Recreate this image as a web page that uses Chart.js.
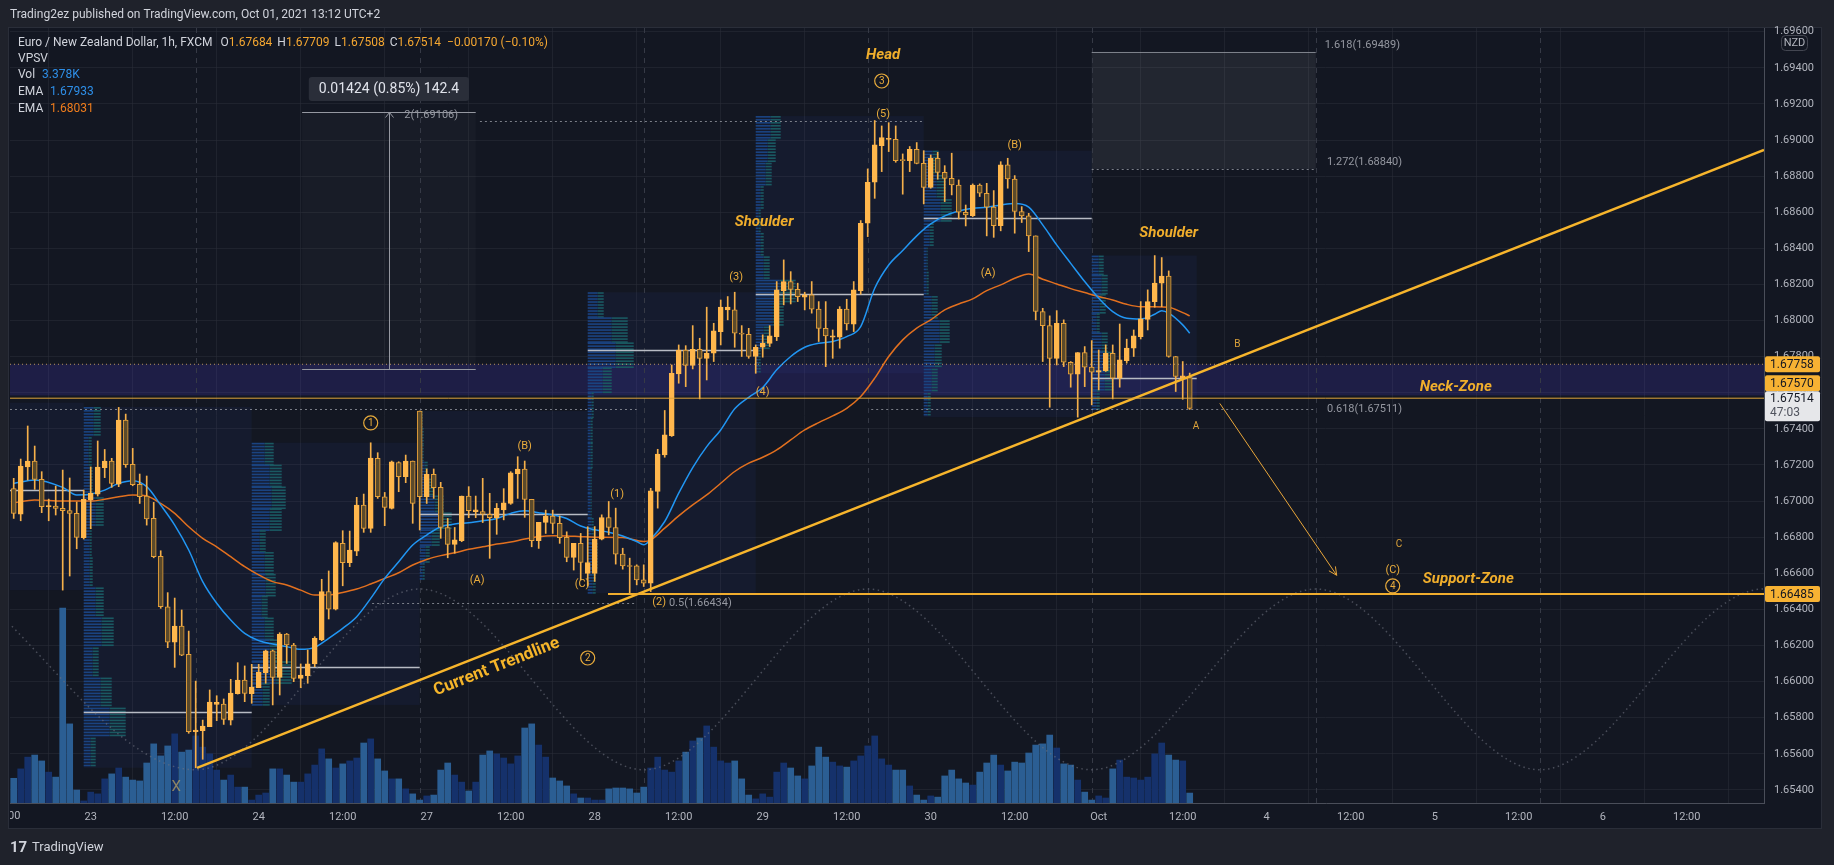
<!DOCTYPE html>
<html><head><meta charset="utf-8">
<script src="https://cdn.jsdelivr.net/npm/chart.js@4.4.0/dist/chart.umd.min.js"></script>
<style>html,body{margin:0;padding:0;background:#1f222b;overflow:hidden}canvas{position:absolute;left:0;top:0}</style>
</head><body><canvas id="c" width="1834" height="865"></canvas>
<script>
// ---------- DATA ----------
const FIRST_BAR = 1; // bar index of first candle (hours since Sep 22 12:00, trading hours)
const open = [1.67070,1.66928,1.67190,1.67222,1.67120,1.66969,1.66973,1.66960,1.66947,1.66932,
1.66797,1.67006,1.67039,1.67185,1.67222,1.67094,1.67449,1.67203,1.67093,1.67028,
1.66904,1.66694,1.66415,1.66218,1.66308,1.66151,1.65723,1.65728,1.65751,1.65874,
1.65876,1.65787,1.65933,1.66009,1.65933,1.65967,1.66050,1.66170,1.66024,1.66264,
1.66203,1.66018,1.66033,1.66098,1.66231,1.66499,1.66402,1.66766,1.66659,1.66723,
1.66978,1.66849,1.67237,1.67024,1.66960,1.67214,1.67135,1.67222,1.67499,1.67024,
1.67148,1.67076,1.66854,1.66760,1.66781,1.67028,1.66942,1.66942,1.66927,1.66908,
1.66951,1.66987,1.67150,1.67178,1.67010,1.66781,1.66882,1.66917,1.66877,1.66799,
1.66688,1.66766,1.66600,1.66600,1.66789,1.66909,1.66854,1.66706,1.66641,1.66641,
1.66564,1.66545,1.67053,1.67256,1.67363,1.67705,1.67837,1.67751,1.67841,1.67791,
1.67819,1.67939,1.68059,1.68059,1.67930,1.67924,1.67801,1.67852,1.67874,1.67911,
1.68166,1.68216,1.68173,1.68129,1.68142,1.68063,1.67957,1.67908,1.67908,1.68063,
1.67980,1.68166,1.68539,1.68766,1.68969,1.69004,1.69004,1.68888,1.68886,1.68949,
1.68871,1.68738,1.68899,1.68821,1.68788,1.68751,1.68600,1.68581,1.68751,1.68705,
1.68628,1.68526,1.68862,1.68784,1.68604,1.68580,1.68469,1.68050,1.67972,1.67791,
1.67985,1.67769,1.67703,1.67823,1.67742,1.67714,1.67723,1.67819,1.67681,1.67778,
1.67847,1.67911,1.68007,1.68105,1.68207,1.68247,1.67801,1.67681,1.67684];
const high = [1.67126,1.67233,1.67416,1.67305,1.67163,1.67011,1.67083,1.67172,1.67128,1.66995,
1.67061,1.67189,1.67333,1.67286,1.67237,1.67519,1.67482,1.67292,1.67150,1.67139,
1.66993,1.66725,1.66493,1.66463,1.66397,1.66280,1.66003,1.65787,1.65954,1.65922,
1.65904,1.66013,1.66105,1.66087,1.66096,1.66096,1.66175,1.66175,1.66271,1.66267,
1.66212,1.66098,1.66175,1.66249,1.66567,1.66613,1.66775,1.66836,1.66834,1.67021,
1.67039,1.67323,1.67268,1.67048,1.67222,1.67218,1.67255,1.67222,1.67499,1.67178,
1.67178,1.67104,1.66904,1.66854,1.67028,1.67080,1.67028,1.67126,1.67043,1.66987,
1.67069,1.67163,1.67246,1.67222,1.67010,1.66882,1.66950,1.66950,1.66917,1.66830,
1.66766,1.66821,1.66858,1.66859,1.66924,1.66998,1.66961,1.66739,1.66684,1.66647,
1.66647,1.67071,1.67287,1.67502,1.67754,1.67865,1.67861,1.67972,1.67902,1.68074,
1.67985,1.68114,1.68133,1.68157,1.67972,1.67957,1.67865,1.67921,1.67972,1.68216,
1.68336,1.68271,1.68207,1.68157,1.68216,1.68105,1.68105,1.67948,1.68077,1.68118,
1.68216,1.68554,1.68840,1.69108,1.69078,1.69096,1.69078,1.68923,1.68964,1.68986,
1.68941,1.68917,1.68932,1.68858,1.68927,1.68779,1.68640,1.68757,1.68757,1.68760,
1.68720,1.68880,1.68899,1.68803,1.68631,1.68594,1.68469,1.68068,1.68026,1.68055,
1.68004,1.67773,1.67823,1.67856,1.67889,1.67837,1.67865,1.67865,1.67981,1.67897,
1.67948,1.68105,1.68170,1.68360,1.68349,1.68275,1.67801,1.67773,1.67709];
const low = [1.66904,1.66891,1.67117,1.67065,1.66936,1.66891,1.66923,1.66507,1.66585,1.66736,
1.66790,1.66847,1.67028,1.67130,1.67076,1.67080,1.67187,1.67085,1.66987,1.66867,
1.66686,1.66406,1.66188,1.66079,1.66144,1.65714,1.65523,1.65570,1.65751,1.65784,
1.65763,1.65760,1.65931,1.65889,1.65880,1.65967,1.65991,1.65871,1.65926,1.66101,
1.66000,1.65967,1.65991,1.66083,1.66227,1.66347,1.66397,1.66531,1.66637,1.66698,
1.66827,1.66827,1.67015,1.66864,1.66956,1.67052,1.67102,1.66877,1.66840,1.66987,
1.67015,1.66794,1.66686,1.66711,1.66775,1.66908,1.66908,1.66881,1.66683,1.66816,
1.66896,1.66982,1.67015,1.66910,1.66747,1.66738,1.66821,1.66821,1.66766,1.66664,
1.66618,1.66563,1.66530,1.66555,1.66785,1.66813,1.66651,1.66623,1.66490,1.66536,
1.66527,1.66499,1.66961,1.67243,1.67358,1.67653,1.67634,1.67732,1.67566,1.67671,
1.67773,1.67865,1.68004,1.67852,1.67801,1.67791,1.67708,1.67797,1.67856,1.67889,
1.68087,1.68092,1.68105,1.68059,1.68041,1.67884,1.67745,1.67791,1.67847,1.67948,
1.67939,1.68146,1.68465,1.68677,1.68825,1.68936,1.68877,1.68700,1.68825,1.68868,
1.68646,1.68733,1.68783,1.68659,1.68696,1.68563,1.68524,1.68576,1.68687,1.68469,
1.68461,1.68497,1.68733,1.68484,1.68543,1.68382,1.68004,1.67773,1.67520,1.67754,
1.67745,1.67631,1.67465,1.67634,1.67533,1.67616,1.67718,1.67566,1.67631,1.67764,
1.67801,1.67898,1.67948,1.68074,1.68077,1.67797,1.67607,1.67564,1.67508];
const close = [1.66932,1.67194,1.67222,1.67120,1.66969,1.66971,1.66960,1.66947,1.66932,1.66799,
1.67010,1.67043,1.67189,1.67222,1.67098,1.67449,1.67202,1.67091,1.67024,1.66902,
1.66692,1.66415,1.66218,1.66308,1.66147,1.65723,1.65732,1.65754,1.65887,1.65885,
1.65791,1.65937,1.66009,1.65935,1.65970,1.66051,1.66170,1.66024,1.66264,1.66203,
1.66018,1.66037,1.66098,1.66240,1.66499,1.66402,1.66770,1.66659,1.66729,1.66978,
1.66849,1.67238,1.67024,1.66965,1.67218,1.67135,1.67222,1.66987,1.67024,1.67148,
1.67074,1.66854,1.66760,1.66785,1.67028,1.66947,1.66951,1.66927,1.66908,1.66960,
1.66991,1.67157,1.67178,1.67010,1.66781,1.66882,1.66917,1.66877,1.66797,1.66688,
1.66766,1.66661,1.66660,1.66789,1.66909,1.66854,1.66706,1.66641,1.66638,1.66564,
1.66545,1.67057,1.67260,1.67367,1.67708,1.67837,1.67751,1.67841,1.67791,1.67819,
1.67943,1.68074,1.68074,1.67930,1.67924,1.67801,1.67852,1.67874,1.67915,1.68170,
1.68216,1.68173,1.68133,1.68142,1.68063,1.67957,1.67915,1.67915,1.68063,1.67981,
1.68170,1.68539,1.68766,1.68973,1.69013,1.69010,1.68886,1.68886,1.68949,1.68871,
1.68738,1.68899,1.68821,1.68788,1.68751,1.68600,1.68585,1.68751,1.68705,1.68628,
1.68526,1.68862,1.68784,1.68604,1.68580,1.68469,1.68050,1.67972,1.67791,1.67985,
1.67769,1.67703,1.67823,1.67742,1.67714,1.67723,1.67819,1.67681,1.67782,1.67847,
1.67915,1.68009,1.68105,1.68207,1.68247,1.67801,1.67690,1.67694,1.67514];
const volume = [8.4,11.6,15.6,16.3,14.3,10.5,8.8,66.3,26.9,4.4,
0.7,3.7,3.1,8.2,9.9,11.9,8.8,7.8,7.5,13.6,
20.1,16.0,19.4,23.5,17.3,18.0,22.8,19.0,16.7,11.2,
7.8,9.5,5.4,5.4,1.0,2.7,3.4,11.6,11.6,9.5,
7.1,7.1,9.9,12.9,18.4,15.0,11.9,13.3,14.3,15.3,
20.4,21.8,15.0,10.9,8.2,8.2,4.8,3.1,1.0,2.4,
2.7,11.2,13.6,9.5,7.1,4.1,7.1,16.3,17.7,16.7,
15.3,13.3,16.0,25.5,26.9,19.7,15.6,8.5,7.5,5.8,
3.1,1.7,1.7,1.0,1.0,4.8,5.1,5.1,4.8,3.4,
5.4,11.9,15.6,11.2,10.5,14.3,17.3,21.1,22.1,26.2,
19.0,14.3,13.6,14.3,8.2,2.7,1.4,3.1,2.0,10.5,
13.6,11.9,9.2,8.2,12.6,19.0,15.6,13.9,12.6,12.2,
14.3,16.0,19.4,22.8,15.0,12.9,11.2,11.2,5.8,2.7,
1.0,2.4,2.0,9.2,11.2,8.2,6.8,6.1,10.5,13.6,
16.3,12.9,10.9,13.9,13.6,17.0,19.7,20.1,23.1,18.7,
13.3,12.9,7.8,3.7,1.0,2.4,1.7,11.6,14.6,8.8,
8.5,7.8,8.8,16.7,20.4,16.3,14.6,14.3,3.378];

const emaFastIdx = [1,4,8,10,12,14,16,18,20,22,24,26,28,30,32,34,36,38,40,42,44,46,48,50,52,54,56,58,60,62,64,66,68,70,72,74,76,78,80,82,84,86,88,90,91,92,94,96,98,100,102,104,106,108,110,112,114,116,118,120,122,124,126,128,130,132,134,136,138,140,142,144,146,148,150,152,154,156,158,160,162,164,165,166,168,169];
const emaFastVal = [1.67098,1.67117,1.67076,1.67034,1.67039,1.67061,1.67098,1.67113,1.67080,1.66978,1.66867,1.66729,1.66554,1.66434,1.66341,1.66267,1.66227,1.66208,1.66194,1.66179,1.66190,1.66240,1.66295,1.66360,1.66461,1.66572,1.66664,1.66757,1.66812,1.66858,1.66873,1.66880,1.66891,1.66904,1.66932,1.66947,1.66936,1.66923,1.66904,1.66862,1.66841,1.66828,1.66807,1.66776,1.66758,1.66789,1.66887,1.67044,1.67186,1.67302,1.67394,1.67511,1.67575,1.67629,1.67727,1.67801,1.67852,1.67874,1.67884,1.67911,1.67967,1.68179,1.68308,1.68388,1.68469,1.68535,1.68580,1.68607,1.68622,1.68628,1.68640,1.68648,1.68628,1.68530,1.68419,1.68317,1.68216,1.68124,1.68050,1.68013,1.68009,1.68035,1.68055,1.68041,1.67976,1.67930];
const emaSlowIdx = [1,4,8,12,14,16,18,20,22,24,26,28,30,32,34,36,38,40,42,44,46,48,50,52,54,56,58,60,62,64,66,68,70,72,74,76,78,80,82,84,88,91,92,94,96,98,100,102,104,106,108,110,112,114,116,118,120,122,124,126,128,130,132,134,136,138,140,142,144,146,148,150,152,154,156,158,160,162,164,166,168,169];
const emaSlowVal = [1.66991,1.67006,1.67000,1.67000,1.67010,1.67024,1.67034,1.67028,1.66987,1.66932,1.66858,1.66794,1.66747,1.66692,1.66637,1.66591,1.66554,1.66535,1.66507,1.66480,1.66480,1.66494,1.66513,1.66541,1.66572,1.66603,1.66646,1.66677,1.66698,1.66714,1.66733,1.66747,1.66762,1.66773,1.66790,1.66803,1.66808,1.66807,1.66803,1.66800,1.66798,1.66776,1.66785,1.66850,1.66918,1.66979,1.67034,1.67099,1.67164,1.67210,1.67243,1.67284,1.67339,1.67394,1.67435,1.67472,1.67514,1.67579,1.67681,1.67801,1.67893,1.67958,1.68004,1.68059,1.68092,1.68120,1.68166,1.68198,1.68234,1.68258,1.68229,1.68203,1.68177,1.68155,1.68133,1.68114,1.68090,1.68077,1.68077,1.68074,1.68044,1.68026];

const sineIdx = [-5,27,59,91,123,155,187,219,251,283];
const sineVal = [1.66513,1.65512,1.66513,1.65512,1.66513,1.65512,1.66513,1.65512,1.66513,1.65512];

const trendIdx = [27.19,251.04];
const trendVal = [1.65522,1.68945];
const supportLevel = 1.66485, supportFromIdx = 85.9;
const neckLevel = 1.67570, neckTop = 1.67758, neckBottom = 1.67585;
const lastPrice = 1.67514, lastPriceTimer = '47:03';

const priceTicks = [1.654,1.656,1.658,1.660,1.662,1.664,1.666,1.668,1.670,1.672,1.674,1.676,1.678,1.680,1.682,1.684,1.686,1.688,1.690,1.692,1.694,1.696];
const timeTickIdx = [12,24,36,48,60,72,84,96,108,120,132,144,156,168,180,192,204,216,228,240];
const timeTickLabels = ['23','12:00','24','12:00','27','12:00','28','12:00','29','12:00','30','12:00','Oct','12:00','4','12:00','5','12:00','6','12:00'];
const edgeTickIdx = 0, edgeTickLabel = '12:00'; // partly hidden label at the left edge

// volume profile (VPSV) per session
const sessionStart = [-13,11,35,59,83,107,131,155];
const sessionEnd   = [11,35,59,83,107,131,155,170];
const sessionHigh  = [1.67545,1.67521,1.67323,1.67499,1.68157,1.69133,1.68941,1.68360];
const sessionLow   = [1.66507,1.65523,1.65871,1.66563,1.66490,1.67708,1.67465,1.67508];
const sessionPoc   = [1.67062,1.65832,1.66081,1.66929,1.67837,1.68147,1.68568,1.67682];
const vpTotal = [[],
 [17,8,9,20,8,9,20,30,15,28,42,12],
 [22,30,34,30,14,22,24,16,22,30,40,18],
 [3,4,4,8,14,24,32,20,10,5],
 [16,40,46,24,6,5,5,4,4,6,10,8],
 [25,20,16,8,5,8,14,40,28,14,5],
 [15,22,28,10,4,5,14,26,18,14,7],
 [12,16,14,8,16,20,22,8]];
const vpUp = [[],
 [10,5,6,12,6,6,12,18,9,17,26,7],
 [13,18,20,18,8,13,14,10,13,18,24,11],
 [2,3,3,5,9,15,20,12,6,3],
 [10,24,28,15,4,3,3,3,3,4,6,5],
 [15,12,10,5,3,5,8,24,17,8,3],
 [9,13,17,6,3,3,8,16,11,8,4],
 [7,10,8,5,10,12,13,5]];

// fib / level drawings
const fibLevel = [1.69106,1.66434,1.67511,1.67511,1.69489,1.68840];
const fibFrom  = [67.6,52.2,0.47,123.5,155,155];
const fibTo    = [131.0,90.0,90.0,187.0,187,187];
const fibSolid = [false,false,false,false,true,false];
const fibLabel = ['2(1.69106)','0.5(1.66434)','','0.618(1.67511)','1.618(1.69489)','1.272(1.68840)'];
const fibLabelIdx = [56.8,94.6,0,188.6,188.3,188.6];
const fibLabelPrice = [1.69136,1.66434,0,1.67511,1.69525,1.68876];
const fibBoxFrom = 155, fibBoxTo = 187;

// price range measure
const measureFrom = 42.2, measureTo = 67.0, measureAt = 54.6;
const measureTop = 1.69156, measureBottom = 1.67732;
const measureText = '0.01424 (0.85%) 142.4', measureLabelPrice = 1.69283;

// annotations
const annText  = ['Head','3','(5)','(B)','Shoulder','Shoulder','(3)','(4)','(1)','(2)','(A)','(A)','(B)','(C)','1','2','X','A','B','C','(C)','4','Neck-Zone','Support-Zone'];
const annKind  = ['title','circle','wave','wave','title','title','wave','wave','wave','wave','wave','wave','wave','wave','circle','circle','x','small','small','small','wave','circle','title','title'];
const annIdx   = [125.2,125.0,125.2,144.0,108.2,166.0,104.2,108.0,87.2,93.2,140.2,67.2,74.0,82.2,52.0,83.0,24.2,169.9,175.8,198.9,198.0,198.0,207.0,208.8];
const annPrice = [1.69471,1.69327,1.69144,1.68973,1.68546,1.68485,1.68241,1.67604,1.67039,1.66441,1.68263,1.66563,1.67305,1.66541,1.67433,1.66131,1.65416,1.67411,1.67870,1.66757,1.66618,1.66530,1.67632,1.66569];
const trendText = 'Current Trendline', trendTextIdx = 70.0, trendTextPrice = 1.66081;
const arrowIdx = [173.3,190.0], arrowPrice = [1.67541,1.66589];

// ---------- CHART ----------
const X0 = 0.471, X1 = 251.04, Y0 = 1.653278, Y1 = 1.696205;
const ORANGE = '#f0ad2e';
const barIdx = open.map((_, k) => k + FIRST_BAR);
const isUp = open.map((o, k) => close[k] >= o);
Chart.defaults.font.family = 'Roboto';

function line(c, x1, y1, x2, y2){ c.beginPath(); c.moveTo(x1,y1); c.lineTo(x2,y2); c.stroke(); }
function rrect(c, x, y, w, h, r){ c.beginPath(); c.moveTo(x+r,y); c.lineTo(x+w-r,y); c.quadraticCurveTo(x+w,y,x+w,y+r); c.lineTo(x+w,y+h-r); c.quadraticCurveTo(x+w,y+h,x+w-r,y+h); c.lineTo(x+r,y+h); c.quadraticCurveTo(x,y+h,x,y+h-r); c.lineTo(x,y+r); c.quadraticCurveTo(x,y,x+r,y); c.closePath(); }

const decor = {
  id: 'decor',
  beforeDraw(chart){
    const c = chart.ctx;
    c.save();
    c.fillStyle = '#1f222b'; c.fillRect(0, 0, chart.width, chart.height);
    c.fillStyle = '#131722'; c.fillRect(8, 27, 1814, 802);
    c.strokeStyle = '#2a2e39'; c.lineWidth = 1; c.strokeRect(8.5, 27.5, 1813, 801);
    c.restore();
  },
  beforeDatasetsDraw(chart){
    const {ctx: c, chartArea: a, scales: {x, y}} = chart;
    const X = v => x.getPixelForValue(v), Y = v => y.getPixelForValue(v);
    c.save();
    c.beginPath(); c.rect(a.left, a.top, a.right - a.left, a.bottom - a.top); c.clip();
    for (let s = 0; s < sessionStart.length; s++){
      c.fillStyle = 'rgba(60,110,230,0.06)';
      c.fillRect(X(sessionStart[s]), Y(sessionHigh[s]), X(sessionEnd[s]) - X(sessionStart[s]), Y(sessionLow[s]) - Y(sessionHigh[s]));
    }
    c.fillStyle = 'rgba(255,255,255,0.025)';
    c.fillRect(X(measureFrom), Y(measureTop), X(measureTo) - X(measureFrom), Y(measureBottom) - Y(measureTop));
    c.fillStyle = 'rgba(255,255,255,0.065)';
    c.fillRect(X(fibBoxFrom), Y(fibLevel[4]), X(fibBoxTo) - X(fibBoxFrom), Y(fibLevel[5]) - Y(fibLevel[4]));
    c.fillStyle = 'rgba(72,61,200,0.22)';
    c.fillRect(a.left, Y(neckTop), a.right - a.left, Y(neckBottom) - Y(neckTop));
    c.strokeStyle = '#363a46'; c.lineWidth = 1; c.setLineDash([5, 5]);
    sineIdx.forEach(v => { if (v > X0 && v < X1 - 1) line(c, Math.round(X(v)) + 0.5, a.top, Math.round(X(v)) + 0.5, a.bottom); });
    c.setLineDash([]);
    for (let s = 0; s < sessionStart.length; s++){
      const rows = vpTotal[s]; if (!rows.length) continue;
      const top0 = Y(sessionHigh[s]), bot0 = Y(sessionLow[s]);
      const rh = (bot0 - top0) / rows.length;
      const x0 = X(sessionStart[s]);
      for (let r = 0; r < rows.length; r++){
        const upW = X(sessionStart[s] + vpUp[s][r] / 7) - x0;
        const totW = X(sessionStart[s] + rows[r] / 7) - x0;
        for (let yy = top0 + r * rh; yy < top0 + (r + 1) * rh - 0.8; yy += 3){
          c.fillStyle = '#1a4380'; c.fillRect(x0, yy, upW, 1.6);
          c.fillStyle = '#1a5962'; c.fillRect(x0 + upW, yy, totW - upW, 1.6);
        }
      }
    }
    c.strokeStyle = '#b8bbc4'; c.lineWidth = 1.5;
    for (let s = 0; s < sessionStart.length; s++){
      const py = Math.round(Y(sessionPoc[s])) + 0.5;
      line(c, X(sessionStart[s]), py, X(sessionEnd[s]), py);
    }
    c.strokeStyle = 'rgba(149,152,161,0.8)'; c.lineWidth = 1;
    for (let k = 0; k < fibLevel.length; k++){
      c.setLineDash(fibSolid[k] ? [] : [2, 3]);
      const py = Math.round(Y(fibLevel[k])) + 0.5;
      line(c, X(fibFrom[k]), py, X(fibTo[k]), py);
    }
    c.setLineDash([]);
    c.strokeStyle = '#9598a1'; c.lineWidth = 1;
    const mt = Math.round(Y(measureTop)) + 0.5, mb = Math.round(Y(measureBottom)) + 0.5, mx = Math.round(X(measureAt)) + 0.5;
    line(c, X(measureFrom), mt, X(measureTo), mt);
    line(c, X(measureFrom), mb, X(measureTo), mb);
    line(c, mx, mb, mx, mt);
    line(c, mx - 4, mt + 5, mx, mt); line(c, mx + 4, mt + 5, mx, mt);
    c.restore();
  },
  afterDatasetsDraw(chart){
    const {ctx: c, chartArea: a, scales: {x, y}} = chart;
    const X = v => x.getPixelForValue(v), Y = v => y.getPixelForValue(v);
    c.save();
    c.beginPath(); c.rect(a.left, a.top, a.right - a.left, a.bottom - a.top); c.clip();
    c.textAlign = 'center'; c.textBaseline = 'middle';
    for (let k = 0; k < annText.length; k++){
      const px = X(annIdx[k]), py = Y(annPrice[k]);
      const kind = annKind[k];
      if (kind === 'title'){ c.font = 'italic bold 15px Roboto'; c.fillStyle = '#f0ae2c'; c.fillText(annText[k], px, py); }
      else if (kind === 'wave'){ c.font = '11px Roboto'; c.fillStyle = '#e9ac3c'; c.fillText(annText[k], px, py); }
      else if (kind === 'circle'){
        c.strokeStyle = '#e9ac3c'; c.lineWidth = 1.2; c.beginPath(); c.arc(px, py, 7, 0, Math.PI * 2); c.stroke();
        c.font = '10px Roboto'; c.fillStyle = '#e9ac3c'; c.fillText(annText[k], px, py + 0.5);
      }
      else if (kind === 'small'){ c.font = '10px Roboto'; c.fillStyle = '#dba23a'; c.fillText(annText[k], px, py); }
      else { c.font = '15px Roboto'; c.fillStyle = 'rgba(205,175,95,0.65)'; c.fillText(annText[k], px, py); }
    }
    const ang = Math.atan2(Y(trendVal[1]) - Y(trendVal[0]), X(trendIdx[1]) - X(trendIdx[0]));
    c.save(); c.translate(X(trendTextIdx), Y(trendTextPrice)); c.rotate(ang);
    c.font = 'bold 17px Roboto'; c.fillStyle = '#f5b52a'; c.fillText(trendText, 0, 0); c.restore();
    const ax1 = X(arrowIdx[0]), ay1 = Y(arrowPrice[0]), ax2 = X(arrowIdx[1]), ay2 = Y(arrowPrice[1]);
    c.strokeStyle = '#e8a63a'; c.lineWidth = 1;
    line(c, ax1, ay1, ax2, ay2);
    const aa = Math.atan2(ay2 - ay1, ax2 - ax1);
    line(c, ax2, ay2, ax2 - 9 * Math.cos(aa - 0.45), ay2 - 9 * Math.sin(aa - 0.45));
    line(c, ax2, ay2, ax2 - 9 * Math.cos(aa + 0.45), ay2 - 9 * Math.sin(aa + 0.45));
    c.font = '11px Roboto'; c.fillStyle = '#9598a1'; c.textAlign = 'left';
    for (let k = 0; k < fibLabel.length; k++){
      if (!fibLabel[k]) continue;
      c.fillText(fibLabel[k], X(fibLabelIdx[k]), Y(fibLabelPrice[k]));
    }
    c.font = '14px Roboto';
    const tw = c.measureText(measureText).width;
    const lx = X(measureAt), ly = Y(measureLabelPrice);
    c.fillStyle = '#2a2e39'; rrect(c, lx - tw / 2 - 10, ly - 12, tw + 20, 24, 3); c.fill();
    c.fillStyle = '#e0e3eb'; c.textAlign = 'center'; c.fillText(measureText, lx, ly + 0.5);
    c.restore();
  },
  afterDraw(chart){
    const {ctx: c, chartArea: a, scales: {x, y}} = chart;
    const Y = v => y.getPixelForValue(v);
    c.save();
    // left-edge time label, clipped at the pane border
    c.save(); c.beginPath(); c.rect(a.left, a.bottom + 1, 60, 24); c.clip();
    c.font = '11px Roboto'; c.fillStyle = '#b2b5be'; c.textAlign = 'center'; c.textBaseline = 'top';
    c.fillText(edgeTickLabel, x.getPixelForValue(edgeTickIdx), a.bottom + 8);
    c.restore();
    c.textBaseline = 'middle'; c.textAlign = 'left';
    c.font = '12px Roboto'; c.fillStyle = '#d1d4dc';
    c.fillText('Trading2ez published on TradingView.com, Oct 01, 2021 13:12 UTC+2', 10, 15);
    const W = '#d1d4dc', O = '#f5a731', B = '#2e8fe8', R = '#f07d1c';
    const segs = [['Euro / New Zealand Dollar, 1h, FXCM', W, 8], ['O', W, 0], ['1.67684', O, 5], ['H', W, 0], ['1.67709', O, 5], ['L', W, 0], ['1.67508', O, 5], ['C', W, 0], ['1.67514', O, 6], ['\u22120.00170 (\u22120.10%)', O, 0]];
    let xx = 18;
    segs.forEach(sg => { c.fillStyle = sg[1]; c.fillText(sg[0], xx, 43); xx += c.measureText(sg[0]).width + sg[2]; });
    c.fillStyle = W; c.fillText('VPSV', 18, 59);
    c.fillText('Vol', 18, 75); c.fillStyle = B; c.fillText('3.378K', 42, 75);
    c.fillStyle = W; c.fillText('EMA', 18, 92); c.fillStyle = B; c.fillText('1.67933', 50, 92);
    c.fillStyle = W; c.fillText('EMA', 18, 109); c.fillStyle = R; c.fillText('1.68031', 50, 109);
    const bx = 1765, bw = 55;
    const lastTop = Y(lastPrice) - 17;
    const labs = [[neckTop, 0], [neckLevel, 0], [supportLevel, 0]];
    c.font = '12px Roboto'; c.textAlign = 'left';
    labs.forEach(l => {
      let cy = Y(l[0]);
      if (cy + 8 > lastTop && cy - 8 < lastTop + 30) cy = lastTop - 8;
      c.fillStyle = '#f7b233'; rrect(c, bx, cy - 8, bw, 16, 2); c.fill();
      c.fillStyle = '#131722'; c.fillText(l[0].toFixed(5), bx + 5, cy + 0.5);
    });
    c.fillStyle = '#e6e7ea'; rrect(c, bx, lastTop, bw, 30, 2); c.fill();
    c.fillStyle = '#131722'; c.fillText(lastPrice.toFixed(5), bx + 5, lastTop + 8);
    c.fillStyle = '#50535e'; c.fillText(lastPriceTimer, bx + 5, lastTop + 22);
    c.fillStyle = '#131722'; rrect(c, 1781, 35, 27, 16, 4); c.fill();
    c.strokeStyle = '#434651'; c.lineWidth = 1; rrect(c, 1781.5, 35.5, 26, 15, 4); c.stroke();
    c.fillStyle = '#b2b5be'; c.font = '11px Roboto'; c.textAlign = 'center'; c.fillText('NZD', 1794.5, 43.5);
    c.textAlign = 'left'; c.fillStyle = '#d1d4dc';
    c.font = 'bold 15px Roboto'; c.fillText('17', 10, 848);
    c.font = '13px Roboto'; c.fillText('TradingView', 32, 848);
    c.restore();
  }
};

const datasets = [
  {type: 'bar', label: 'vol', yAxisID: 'yv', data: barIdx.map((xv, k) => ({x: xv, y: volume[k]})),
   backgroundColor: isUp.map(u => u ? '#15316b' : '#2b5e93'), barThickness: 6, grouped: false, order: 10},
  {type: 'line', label: 'sine', data: sineIdx.map((xv, k) => ({x: xv, y: sineVal[k]})),
   borderColor: 'rgba(110,114,126,0.6)', borderWidth: 1.5, borderDash: [1.5, 3.5], pointRadius: 0, cubicInterpolationMode: 'monotone', order: 9},
  {type: 'line', label: 'emaFast', data: emaFastIdx.map((xv, k) => ({x: xv, y: emaFastVal[k]})),
   borderColor: '#2196f3', borderWidth: 1.5, pointRadius: 0, cubicInterpolationMode: 'monotone', order: 3},
  {type: 'line', label: 'emaSlow', data: emaSlowIdx.map((xv, k) => ({x: xv, y: emaSlowVal[k]})),
   borderColor: '#e2701f', borderWidth: 1.5, pointRadius: 0, cubicInterpolationMode: 'monotone', order: 3},
  {type: 'bar', label: 'wick', data: barIdx.map((xv, k) => ({x: xv, y: [low[k], high[k]]})),
   backgroundColor: '#f5b04a', barThickness: 1, grouped: false, order: 2},
  {type: 'bar', label: 'body', data: barIdx.map((xv, k) => ({x: xv, y: [open[k], close[k]]})),
   backgroundColor: isUp.map(u => u ? '#ffb74d' : '#5b4a2b'), borderColor: isUp.map(u => u ? '#ffb74d' : '#e8a23a'),
   borderWidth: 1, borderSkipped: false, barThickness: 5, minBarLength: 1, grouped: false, order: 1},
  {type: 'line', label: 'neckTop', data: [{x: X0, y: neckTop}, {x: X1, y: neckTop}],
   borderColor: 'rgba(240,190,110,0.75)', borderWidth: 1, borderDash: [1, 3], pointRadius: 0, order: 0},
  {type: 'line', label: 'neck', data: [{x: X0, y: neckLevel}, {x: X1, y: neckLevel}],
   borderColor: '#e0a43a', borderWidth: 1, pointRadius: 0, order: 0},
  {type: 'line', label: 'support', data: [{x: supportFromIdx, y: supportLevel}, {x: X1, y: supportLevel}],
   borderColor: ORANGE, borderWidth: 2, pointRadius: 0, order: 0},
  {type: 'line', label: 'trend', data: trendIdx.map((xv, k) => ({x: xv, y: trendVal[k]})),
   borderColor: '#f7b52c', borderWidth: 2.5, pointRadius: 0, order: 0}
];

new Chart(document.getElementById('c'), {
  type: 'bar',
  data: {datasets},
  options: {
    responsive: false, animation: false, events: [],
    layout: {padding: {left: 10, top: 28, right: 12, bottom: 37}},
    plugins: {legend: {display: false}, tooltip: {enabled: false}},
    scales: {
      x: {type: 'linear', min: X0, max: X1, offset: false, position: 'bottom',
        grid: {color: 'rgba(42,46,57,0.55)', drawTicks: false},
        border: {display: true, color: '#4a4e59'},
        ticks: {color: '#b2b5be', font: {size: 11}, padding: 8, maxRotation: 0, autoSkip: false,
          callback: (v, i) => timeTickLabels[i]},
        afterBuildTicks: s => { s.ticks = timeTickIdx.map(v => ({value: v})); },
        afterFit: s => { s.height = 25; }},
      y: {type: 'linear', position: 'right', min: Y0, max: Y1,
        grid: {color: 'rgba(42,46,57,0.55)', drawTicks: false},
        border: {display: true, color: '#4a4e59'},
        ticks: {color: '#b2b5be', font: {size: 11}, padding: 10, callback: v => Number(v).toFixed(5)},
        afterBuildTicks: s => { s.ticks = priceTicks.map(v => ({value: v})); },
        afterFit: s => { s.width = 58; }},
      yv: {type: 'linear', display: false, min: 0, max: 263.5}
    }
  },
  plugins: [decor]
});
</script></body></html>
